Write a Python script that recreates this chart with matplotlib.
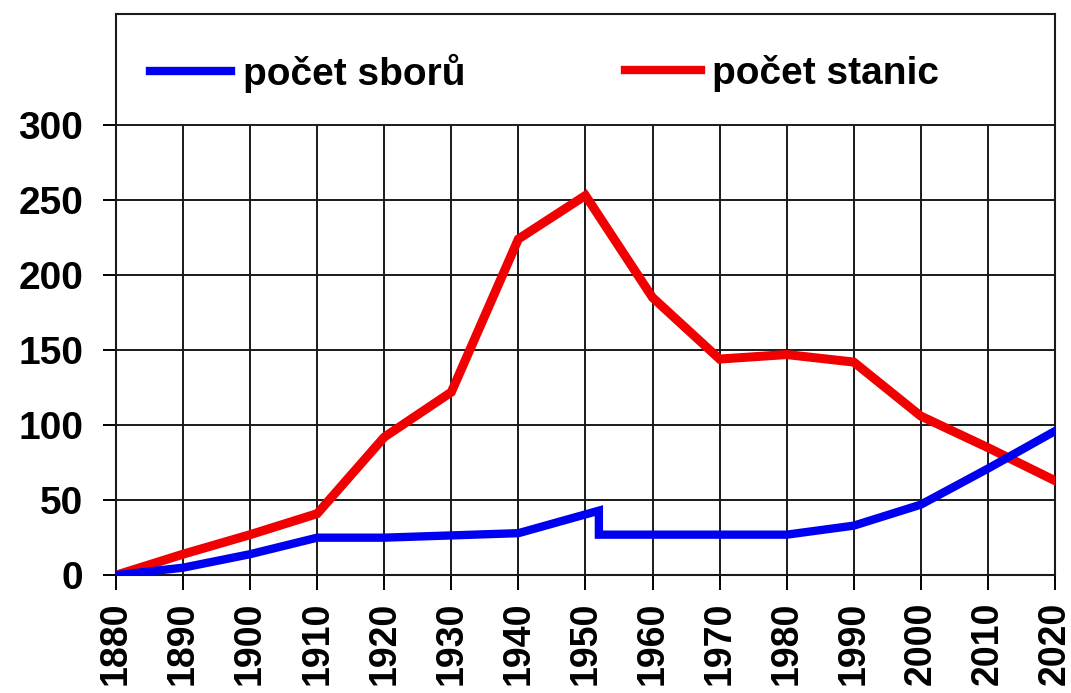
import numpy as np
import matplotlib.pyplot as plt
from matplotlib.lines import Line2D

plt.rcParams['font.family'] = ['Liberation Sans', 'DejaVu Sans']
plt.rcParams['font.weight'] = 'bold'

# pocet stanic - po dekadach
roky_stanic = [1880, 1890, 1900, 1910, 1920, 1930, 1940, 1950, 1960, 1970,
               1980, 1990, 2000, 2010, 2020]
stanice = [0, 14, 27, 41, 92, 122, 224, 253, 185, 144, 147, 142, 106, 85, 63]

# pocet sboru - skok kolem r. 1952
roky_sboru = [1880, 1890, 1900, 1910, 1920, 1930, 1940, 1952, 1952, 1960,
              1970, 1980, 1990, 2000, 2010, 2020]
sbory = [0, 5, 14, 25, 25, 26.5, 28, 43, 27, 27, 27, 27, 33, 47, 71, 96]

dekady = list(range(1880, 2021, 10))
yticks = [0, 50, 100, 150, 200, 250, 300]
FS = 28

fig = plt.figure(figsize=(10.71, 6.93), dpi=100)
ax = fig.add_axes([0.1083, 0.170, 0.8767, 0.810])

# mrizka jen do 300, nad tim je legenda
ax.vlines(dekady, 0, 300, colors='#1a1a1a', linewidth=1.4, zorder=1)
ax.hlines(yticks[1:], 1880, 2020, colors='#1a1a1a', linewidth=1.4, zorder=1)

ax.plot(roky_stanic, stanice, color='#f00000', linewidth=6.5, zorder=3,
        solid_joinstyle='miter')
ax.plot(roky_sboru, sbory, color='#0000f0', linewidth=6.0, zorder=4,
        solid_joinstyle='miter')

ax.set_xlim(1880, 2020)
ax.set_ylim(0, 374)
ax.set_xticks(dekady)
ax.set_xticklabels([str(r) for r in dekady], rotation=90, fontsize=27,
                   fontweight='bold')
ax.set_yticks(yticks)
ax.set_yticklabels([str(v) for v in yticks], fontsize=FS, fontweight='bold')
ax.tick_params(axis='x', direction='out', length=11, width=1.4, pad=8)
ax.tick_params(axis='y', direction='out', length=9.5, width=1.4, pad=14)
for s in ax.spines.values():
    s.set_linewidth(1.5)
    s.set_color('#1a1a1a')

leg1 = ax.legend([Line2D([], [], color='#0000f0', linewidth=6)], ['počet sborů'],
                 loc='center left', bbox_to_anchor=(0.036, 0.894),
                 frameon=False, borderpad=0, borderaxespad=0,
                 handlelength=2.1, handletextpad=0.3,
                 prop={'size': FS, 'weight': 'bold'})
ax.add_artist(leg1)
ax.legend([Line2D([], [], color='#f00000', linewidth=6)], ['počet stanic'],
          loc='center left', bbox_to_anchor=(0.542, 0.894),
          frameon=False, borderpad=0, borderaxespad=0,
          handlelength=1.95, handletextpad=0.3,
          prop={'size': FS, 'weight': 'bold'})

fig.savefig('out.png', dpi=100)
